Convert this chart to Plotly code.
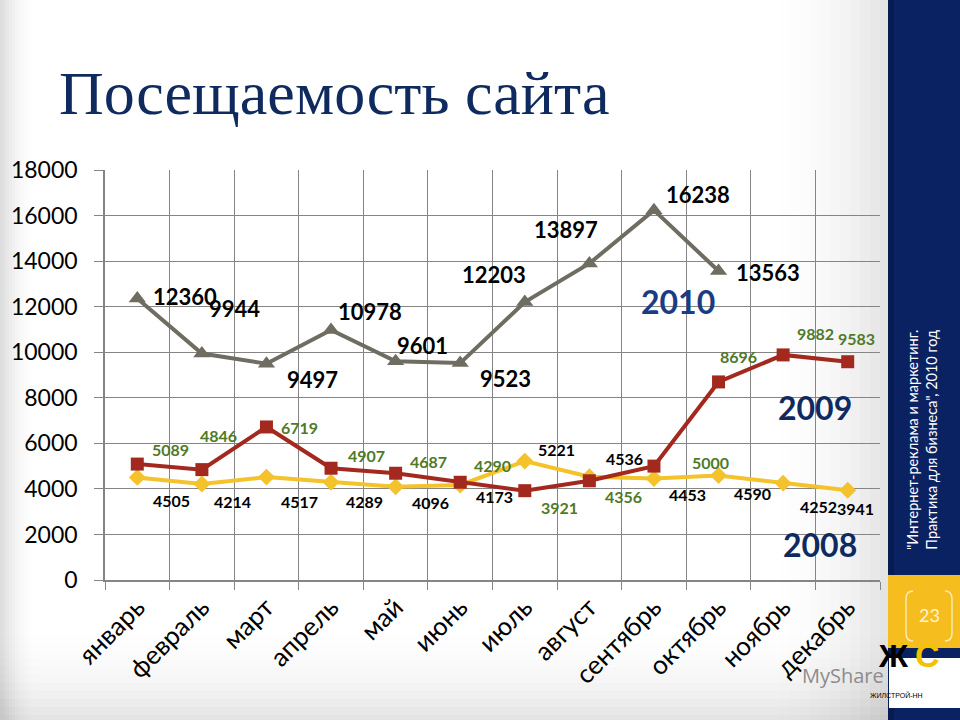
import plotly.graph_objects as go

# ---------------- data ----------------
months = ["январь", "февраль", "март", "апрель", "май", "июнь",
          "июль", "август", "сентябрь", "октябрь", "ноябрь", "декабрь"]
v2010 = [12360, 9944, 9497, 10978, 9601, 9523, 12203, 13897, 16238, 13563]
v2009 = [5089, 4846, 6719, 4907, 4687, 4290, 3921, 4356, 5000, 8696, 9882, 9583]
v2008 = [4505, 4214, 4517, 4289, 4096, 4173, 5221, 4536, 4453, 4590, 4252, 3941]
y_ticks = [0, 2000, 4000, 6000, 8000, 10000, 12000, 14000, 16000, 18000]

title_text = "Посещаемость сайта"
side_text = "\"Интернет-реклама и маркетинг.<br>Практика для бизнеса\", 2010 год"
page_no = "23"

# label offsets (pixels, x right / y up) -- styling only
off2010 = [(48, 2), (33, 45), (46, -16), (39, 18), (27, 16), (45, -15),
           (-31, 28), (-23, 34), (44, 16), (49, -1)]
off2009 = [(33, 15), (17, 34), (33, -1), (35, 13), (33, 12), (32, 17),
           (35, -17), (34, -16), (57, 4), (20, 25), (32, 21), (9, 23)]
off2008 = [(34, -23), (31, -17), (33, -24), (33, -19), (35, -16), (34, -12),
           (32, 12), (35, 18), (34, -16), (34, -18), (35, -23), (8, -18)]

C2010 = "#6F6C61"
C2009 = "#A3291F"
C2008 = "#F4C22A"
NAVY = "#0E2A5E"
GRID = "#858585"

# plot area in pixels
L, R, T, B = 105, 880, 170, 580
W, H = 960, 720


def PX(x):
    return (x - L) / (R - L)


def PY(y):
    return (B - y) / (B - T)


fig = go.Figure()

fig.add_trace(go.Scatter(x=months, y=v2008, mode="lines+markers", name="2008",
                         line=dict(color=C2008, width=4),
                         marker=dict(symbol="diamond", size=13, color=C2008)))
fig.add_trace(go.Scatter(x=months, y=v2009, mode="lines+markers", name="2009",
                         line=dict(color=C2009, width=4),
                         marker=dict(symbol="square", size=13, color=C2009)))
fig.add_trace(go.Scatter(x=months[:len(v2010)], y=v2010, mode="lines+markers", name="2010",
                         line=dict(color=C2010, width=4),
                         marker=dict(symbol="triangle-up", size=15, color=C2010)))

ann = []
for i, v in enumerate(v2010):
    ann.append(dict(x=months[i], y=v, xref="x", yref="y", text=str(v), showarrow=False,
                    xshift=off2010[i][0], yshift=off2010[i][1],
                    font=dict(family="Lato", size=22, color="#000000", weight="bold")))
for i, v in enumerate(v2009):
    ann.append(dict(x=months[i], y=v, xref="x", yref="y", text=str(v), showarrow=False,
                    xshift=off2009[i][0], yshift=off2009[i][1],
                    font=dict(family="Lato", size=16, color="#4F7A28", weight="bold")))
for i, v in enumerate(v2008):
    ann.append(dict(x=months[i], y=v, xref="x", yref="y", text=str(v), showarrow=False,
                    xshift=off2008[i][0], yshift=off2008[i][1],
                    font=dict(family="Lato", size=16, color="#000000", weight="bold")))

# series year labels
for txt, (px_, py_), col in [("2010", (678, 301), "#1B3C82"),
                             ("2009", (815, 407), NAVY),
                             ("2008", (820, 544), NAVY)]:
    ann.append(dict(x=PX(px_), y=PY(py_), xref="paper", yref="paper", text=txt,
                    showarrow=False, xanchor="center", yanchor="middle",
                    font=dict(family="Lato", size=32, color=col, weight="bold")))

# title
ann.append(dict(x=PX(57), y=PY(93), xref="paper", yref="paper", text=title_text,
                showarrow=False, xanchor="left", yanchor="middle",
                font=dict(family="Liberation Serif", size=62, color=NAVY)))

# sidebar text
ann.append(dict(x=PX(922), y=PY(440), xref="paper", yref="paper", text=side_text,
                showarrow=False, xanchor="center", yanchor="middle", textangle=-90,
                align="center",
                font=dict(family="Lato", size=14.5, color="#FFFFFF")))
# page number
ann.append(dict(x=PX(929), y=PY(615), xref="paper", yref="paper", text=page_no,
                showarrow=False, xanchor="center", yanchor="middle",
                font=dict(family="Lato", size=18, color="#FFF4D6")))
# watermark (partly hidden under the logo in the reference)
ann.append(dict(x=PX(886), y=PY(675), xref="paper", yref="paper", text="MyShare",
                showarrow=False, xanchor="right", yanchor="middle",
                font=dict(family="Open Sans", size=20, color="#8C8C8C")))
# logo texts
ann.append(dict(x=PX(911), y=PY(676), xref="paper", yref="paper", text="Ж",
                showarrow=False, font=dict(family="Liberation Sans", size=32,
                                           color="#000000", weight="bold")))
ann.append(dict(x=PX(942), y=PY(676), xref="paper", yref="paper", text="С",
                showarrow=False, font=dict(family="Liberation Sans", size=34,
                                           color="#F2C200", weight="bold")))
ann.append(dict(x=PX(925), y=PY(701), xref="paper", yref="paper", text="ЖИЛСТРОЙ-НН",
                showarrow=False, font=dict(family="Liberation Sans", size=7,
                                           color="#000000")))

shapes = []
# background vignette (left edge and bottom)
for k in range(12):
    op = 0.05 * (1 - k / 12)
    shapes.append(dict(type="rect", xref="paper", yref="paper", layer="below",
                       x0=PX(0), x1=PX(3 + 3 * k), y0=PY(720), y1=PY(0),
                       fillcolor="#9A9A9A", opacity=op, line=dict(width=0)))
    shapes.append(dict(type="rect", xref="paper", yref="paper", layer="below",
                       x0=PX(0), x1=PX(888), y0=PY(720), y1=PY(715 - 8 * k),
                       fillcolor="#9A9A9A", opacity=op * 0.8, line=dict(width=0)))
    shapes.append(dict(type="rect", xref="paper", yref="paper", layer="below",
                       x0=PX(880 - 10 * k), x1=PX(888), y0=PY(720), y1=PY(0),
                       fillcolor="#9A9A9A", opacity=op * 0.8, line=dict(width=0)))
# sidebar
shapes.append(dict(type="rect", xref="paper", yref="paper", layer="above",
                   x0=PX(888), x1=PX(961), y0=PY(721), y1=PY(-1),
                   fillcolor="#0A2262", line=dict(width=0)))
shapes.append(dict(type="rect", xref="paper", yref="paper", layer="above",
                   x0=PX(888), x1=PX(894), y0=PY(721), y1=PY(-1),
                   fillcolor="#061B52", line=dict(width=0)))
shapes.append(dict(type="rect", xref="paper", yref="paper", layer="above",
                   x0=PX(888), x1=PX(961), y0=PY(648), y1=PY(575),
                   fillcolor="#F5BE1E", line=dict(width=0)))
# brackets around page number
shapes.append(dict(type="path", xref="paper", yref="paper", layer="above",
                   path=f"M {PX(913)},{PY(591)} Q {PX(906)},{PY(591)} {PX(906)},{PY(599)} "
                        f"L {PX(906)},{PY(633)} Q {PX(906)},{PY(641)} {PX(913)},{PY(641)}",
                   line=dict(color="#FCEAB2", width=1.5)))
shapes.append(dict(type="path", xref="paper", yref="paper", layer="above",
                   path=f"M {PX(945)},{PY(591)} Q {PX(952)},{PY(591)} {PX(952)},{PY(599)} "
                        f"L {PX(952)},{PY(633)} Q {PX(952)},{PY(641)} {PX(945)},{PY(641)}",
                   line=dict(color="#FCEAB2", width=1.5)))
# logo box
shapes.append(dict(type="rect", xref="paper", yref="paper", layer="above",
                   x0=PX(889), x1=PX(961), y0=PY(708), y1=PY(658),
                   fillcolor="#FFFFFF", line=dict(width=0)))

fig.update_layout(
    width=W, height=H,
    margin=dict(l=L, r=W - R, t=T, b=H - B, pad=0),
    paper_bgcolor="#FFFFFF", plot_bgcolor="rgba(0,0,0,0)",
    showlegend=False,
    annotations=ann, shapes=shapes,
    xaxis=dict(type="category", range=[-0.5, 11.5], tickson="boundaries",
               showgrid=True, gridcolor=GRID, gridwidth=1.3,
               showline=True, linecolor=GRID, linewidth=1.5,
               ticks="outside", ticklen=8, tickcolor=GRID, tickwidth=1.3,
               tickangle=-45,
               tickfont=dict(family="Lato", size=26, color="#000000")),
    yaxis=dict(range=[0, 18000], tickvals=y_ticks, tickformat="d", showgrid=True,
               gridcolor=GRID, gridwidth=1.3, zeroline=False,
               showline=True, linecolor=GRID, linewidth=1.5,
               ticks="outside", ticklen=9, tickcolor=GRID, tickwidth=1.3,
               ticklabelstandoff=12,
               tickfont=dict(family="Lato", size=23, color="#000000")),
)

fig.write_html("out.html")
